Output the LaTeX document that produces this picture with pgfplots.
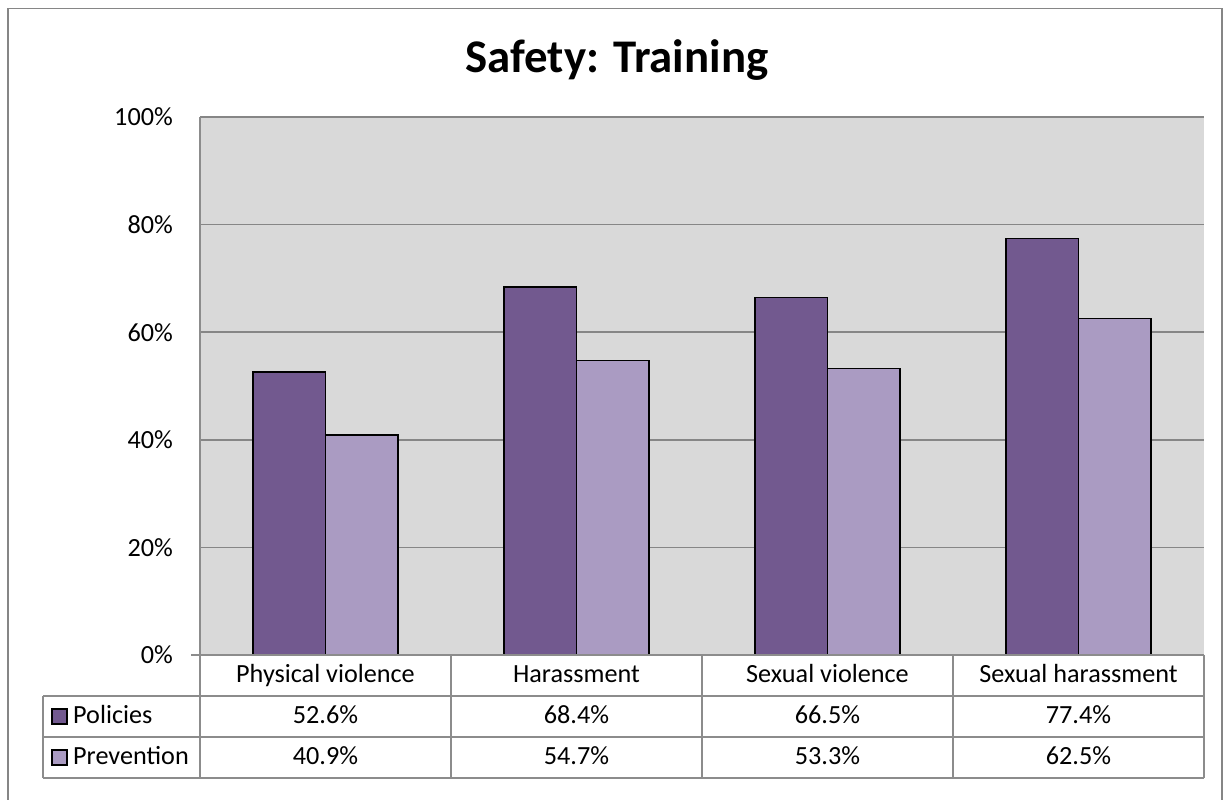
\documentclass[border=0pt]{standalone}
\usepackage{pgfplots}
\pgfplotsset{compat=1.18}
\usepackage{fontspec}
\setmainfont{Carlito}
\definecolor{pol}{RGB}{114,89,143}
\definecolor{prev}{RGB}{170,155,194}
\definecolor{plotbg}{RGB}{217,217,217}
\definecolor{gridc}{RGB}{134,134,134}
\definecolor{tabc}{RGB}{140,140,140}
\begin{document}
\begin{tikzpicture}[x=1bp,y=1bp]
\useasboundingbox (0,0) rectangle (1223,800);
\clip (0,0) rectangle (1223,800);
\fill[white] (0,0) rectangle (1223,800);
% chart border
\draw[gridc, line width=1.5bp] (8,-20) -- (8,791.5) -- (1222,791.5) -- (1222,-20);
% title
\node[anchor=base, font=\fontsize{47}{55}\selectfont\bfseries] at (617,727) {Safety: Training};
\begin{axis}[
  at={(200bp,145bp)}, anchor=south west,
  width=1004bp, height=538bp, scale only axis,
  xmin=-0.5, xmax=3.5, ymin=0, ymax=100,
  axis background/.style={fill=plotbg},
  axis line style={draw=none},
  ytick={0,20,40,60,80,100},
  yticklabels={0\%,20\%,40\%,60\%,80\%,100\%},
  ymajorgrids, grid style={gridc, line width=1.5bp},
  major y tick style={draw=none},
  yticklabel style={anchor=east, inner sep=0pt, xshift=-27bp, font=\fontsize{26.3}{31}\selectfont},
  xtick={0,1,2,3},
  xticklabels={Physical violence,Harassment,Sexual violence,Sexual harassment},
  major x tick style={draw=none},
  xticklabel style={anchor=base, inner sep=0pt, yshift=-28bp, font=\fontsize{26.3}{31}\selectfont},
  bar width=0.289,
  clip=false,
]
\addplot[ybar, bar shift=-0.1445, fill=pol, draw=black, line width=1.2bp]
  coordinates {(0,52.6) (1,68.4) (2,66.5) (3,77.4)};
\addplot[ybar, bar shift=0.1445, fill=prev, draw=black, line width=1.2bp]
  coordinates {(0,40.9) (1,54.7) (2,53.3) (3,62.5)};
\end{axis}
% axis lines and table
\begin{scope}[tabc, line width=2bp]
\draw (191,145) -- (1204,145);
\draw (200,683) -- (200,22);
\draw (43,104) -- (1204,104);
\draw (43,63) -- (1204,63);
\draw (43,22) -- (1204,22);
\draw (43,104) -- (43,22);
\foreach \x in {451,702,953,1204} \draw (\x,145) -- (\x,22);
\end{scope}
% legend keys
\draw[black, line width=1.2bp, fill=pol] (52,76) rectangle (67,91);
\draw[black, line width=1.2bp, fill=prev] (52,35) rectangle (67,50);
\begin{scope}[font=\fontsize{26.3}{31}\selectfont, every node/.style={anchor=base, inner sep=0pt}]
\node[anchor=base west] at (73,76.5) {Policies};
\node[anchor=base west] at (73,35) {Prevention};
\node at (325.5,76.5) {52.6\%};
\node at (576.5,76.5) {68.4\%};
\node at (827.5,76.5) {66.5\%};
\node at (1078.5,76.5) {77.4\%};
\node at (325.5,35) {40.9\%};
\node at (576.5,35) {54.7\%};
\node at (827.5,35) {53.3\%};
\node at (1078.5,35) {62.5\%};
\end{scope}
\end{tikzpicture}
\end{document}
